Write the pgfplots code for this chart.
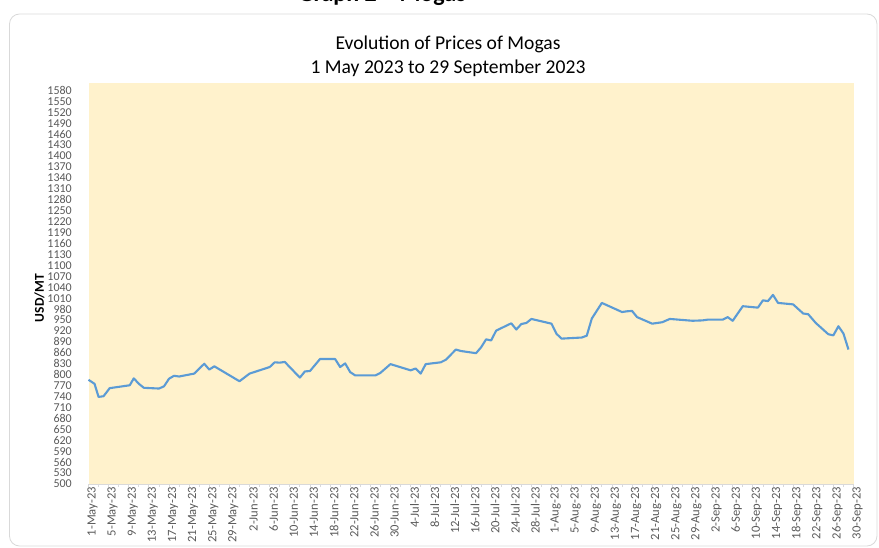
\documentclass[border=0pt]{standalone}
\usepackage{pgfplots}
\pgfplotsset{compat=1.18}
\usepackage{fontspec}
\setmainfont{Carlito}
\definecolor{bg}{HTML}{FFF2CC}
\definecolor{ln}{HTML}{5B9BD5}
\definecolor{tk}{HTML}{595959}
\definecolor{fr}{HTML}{D9D9D9}
\begin{document}
\begin{tikzpicture}[x=1pt,y=1pt]
\useasboundingbox (0,0) rectangle (879,-548);
\node[font=\fontsize{24}{28}\selectfont\bfseries, anchor=base, inner sep=0pt] at (382,-2) {Graph 2 – Mogas};
\draw[fr, line width=0.8pt, rounded corners=10pt] (9.5,-14) rectangle (877,-546);
\node[font=\fontsize{19.6}{23}\selectfont, anchor=base, inner sep=0pt] at (448,-50) {Evolution of Prices of Mogas};
\node[font=\fontsize{19.6}{23}\selectfont, anchor=base, inner sep=0pt] at (448,-73.5) {1 May 2023 to 29 September 2023};
\begin{axis}[
  at={(88.5pt,-484pt)}, anchor=south west,
  scale only axis, width=765pt, height=400.8pt,
  xmin=0, xmax=152, ymin=500, ymax=1600,
  axis background/.style={fill=bg},
  axis lines*=left,
  separate axis lines,
  x axis line style={draw=fr, line width=0.8pt},
  y axis line style={draw=none},
  xtick={0,4,...,152},
  minor x tick num=1,
  xticklabels={1-May-23,5-May-23,9-May-23,13-May-23,17-May-23,21-May-23,25-May-23,29-May-23,2-Jun-23,6-Jun-23,10-Jun-23,14-Jun-23,18-Jun-23,22-Jun-23,26-Jun-23,30-Jun-23,4-Jul-23,8-Jul-23,12-Jul-23,16-Jul-23,20-Jul-23,24-Jul-23,28-Jul-23,1-Aug-23,5-Aug-23,9-Aug-23,13-Aug-23,17-Aug-23,21-Aug-23,25-Aug-23,29-Aug-23,2-Sep-23,6-Sep-23,10-Sep-23,14-Sep-23,18-Sep-23,22-Sep-23,26-Sep-23,30-Sep-23},
  ytick={500,530,...,1580},
  tick align=outside,
  x tick style={draw=fr, line width=0.8pt},
  major tick length=3pt, minor tick length=3pt,
  y tick style={draw=none},
  /pgf/number format/1000 sep={},
  /pgf/number format/assume math mode=true,
  x tick label style={font=\fontsize{12.6}{14}\selectfont, text=tk, rotate=90, anchor=east, inner sep=0pt, yshift=-4pt},
  y tick label style={font=\fontsize{12}{13}\selectfont, text=tk, anchor=east, inner sep=0pt, xshift=-13.5pt},
  ylabel={USD/MT},
  ylabel style={font=\fontsize{13.5}{16}\selectfont\bfseries, at={(axis description cs:-0.064,0.464)}, anchor=center, rotate=0},
  clip=false,
]
\addplot[ln, line width=2.1pt, line join=round] coordinates {
(0,786) (1.2,775) (2,739) (3,741) (4.2,763) (8.2,771) (9,790) (10,775) (11,764)
(14,762) (15,768) (16,789) (17,797) (18,795) (21,803) (23,830) (24,814) (25,823)
(30,782) (32,803) (36,821) (37,834) (38,833) (39,835) (42,792) (43,809) (44,810)
(46,843) (49,843) (50,821) (51,831) (52,807) (53,798) (57,798) (58,805) (60,829)
(64,812) (65,817) (66,803) (67,829) (70,834) (71,841) (72.5,862) (73,869) (74,865)
(77,859) (78,875) (79,897) (80,894) (81,921) (84,941) (85,924) (86,939) (87,942)
(88,953) (92,940) (93,912) (94,899) (98,902) (99,907) (100,954) (102,997) (106,972)
(107,974) (108,975) (109,958) (112,940) (114,944) (115.5,953) (120,948) (122,949)
(123,951) (126,951) (127,958) (128,948) (130,988) (133,984) (134,1004) (135,1002)
(136,1019) (137,997) (140,993) (142,968) (143,966) (144.5,942) (147,911) (148,908)
(149,933) (150,913) (151,869)
};
\end{axis}
\end{tikzpicture}
\end{document}
